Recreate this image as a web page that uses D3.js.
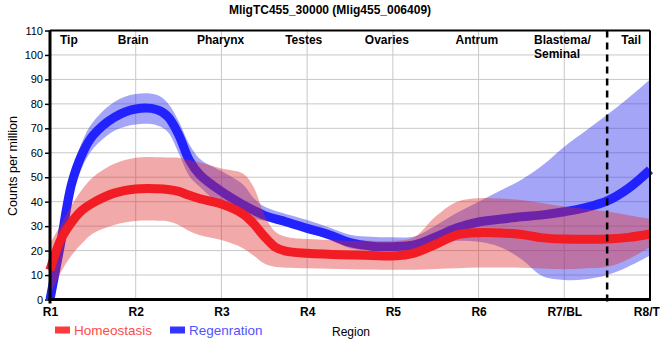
<!DOCTYPE html>
<html>
<head>
<meta charset="utf-8">
<script src="https://cdn.jsdelivr.net/npm/d3@7"></script>
<style>
  html, body { margin: 0; padding: 0; background: #fff; }
  svg { display: block; font-family: "Liberation Sans", Arial, sans-serif; }
</style>
</head>
<body>
<svg id="chart" width="660" height="360"></svg>
<script>
// ---------------- data ----------------
const title = "MligTC455_30000 (Mlig455_006409)";
const xTickLabels = ["R1", "R2", "R3", "R4", "R5", "R6", "R7/BL", "R8/TL"];
const yTicks = [0, 10, 20, 30, 40, 50, 60, 70, 80, 90, 100, 110];
const regionNames = ["Tip", "Brain", "Pharynx", "Testes", "Ovaries", "Antrum", "Blastema/|Seminal", "Tail"];
const regionAt = [1.22, 1.97, 2.99, 3.96, 4.93, 5.98, 6.647, 7.78];
const seriesNames = ["Homeostasis", "Regenration"];

// positions along the body (R1 = 1 ... R8 = 8)
const positions = [1, 1.125, 1.25, 1.375, 1.5, 1.75, 2, 2.25, 2.375, 2.5, 2.625, 2.75, 3, 3.25, 3.375, 3.5, 3.625, 3.75,
  4, 4.25, 4.5, 4.75, 5, 5.25, 5.5, 5.75, 6, 6.25, 6.5, 6.75, 7, 7.25, 7.5, 7.75, 8];

const homeoMean = [12, 24.5, 31.5, 36.5, 39.5, 43.5, 45.2, 45.3, 45, 44.2, 42.6, 41.2, 39, 35, 31, 25.8, 21.5, 19.8,
  18.9, 18.5, 18.2, 18, 17.8, 19, 22.6, 26.4, 27.3, 27.2, 26.6, 25.2, 24.7, 24.6, 24.7, 25.4, 26.8];
const homeoHigh = [23, 30.5, 38.5, 45, 50, 55.5, 58, 58.2, 58.1, 58, 57, 56, 53.6, 51.5, 46, 34.7, 27.8, 25.7,
  24.7, 24.3, 24, 24, 24, 25.5, 34, 40, 41.4, 41.3, 40.7, 39.4, 38, 37, 36, 34.5, 33];
const homeoLow = [1.5, 11, 18, 23, 27, 30.5, 32.1, 32.2, 32, 30.5, 28, 26.3, 24.3, 21, 18, 14.7, 13.4, 13,
  12.8, 12.6, 12.4, 12.3, 12.2, 12.2, 12.5, 12.8, 13.1, 13.1, 13, 12.7, 12.4, 12.8, 13.4, 16.5, 21.6];

const regenMean = [0, 23, 47, 59.5, 67, 74.5, 77.9, 77.6, 74.8, 67.5, 57, 51, 44.2, 38.8, 36.5, 34.4, 33, 31.8,
  29.1, 26.6, 23.3, 21.8, 21.6, 22.3, 25.6, 29.3, 31.7, 32.8, 33.8, 34.6, 35.9, 37.6, 40.3, 45.5, 53];
const regenHigh = [2, 28, 51, 64.5, 72.5, 80.8, 84, 83.6, 80.3, 73, 63.5, 57.5, 52.5, 47, 41.5, 38, 36.3, 35,
  32.5, 29.5, 26.5, 25.7, 25.5, 25.8, 30.3, 35.5, 40, 44.5, 49, 55, 62.5, 69, 75.5, 82.5, 90];
const regenLow = [0, 17, 42, 54, 61.5, 69, 71.6, 71.2, 68.5, 60, 50.5, 46, 38.5, 34, 33, 32.3, 31.3, 30,
  27.5, 24.5, 21, 20.2, 20, 20.3, 22.5, 24, 23.6, 21.5, 16.5, 9.5, 8, 8.3, 10, 13.5, 18];

// ---------------- layout ----------------
const svg = d3.select("#chart");
const pLeft = 50, pRight = 650, pTop = 30.5, pBottom = 299.5;
const x = d3.scaleLinear().domain([1, 8]).range([pLeft, pRight]);
const y = d3.scaleLinear().domain([0, 110]).range([pBottom, pTop]);

const colors = {
  homeoLine: "#f21c24", homeoBand: "rgba(222,40,40,0.4)",
  regenLine: "#2222ff", regenBand: "rgba(50,50,240,0.44)"
};

// grid
const grid = svg.append("g");
grid.selectAll("line.h").data(yTicks).join("line")
  .attr("x1", pLeft).attr("x2", pRight)
  .attr("y1", d => y(d)).attr("y2", d => y(d))
  .attr("stroke", "#c8c8c8").attr("stroke-width", 1);
grid.selectAll("line.v").data(d3.range(1, 9)).join("line")
  .attr("x1", d => x(d)).attr("x2", d => x(d))
  .attr("y1", pTop).attr("y2", pBottom)
  .attr("stroke", "#c8c8c8").attr("stroke-width", 1);

// series
const curve = d3.curveCatmullRom.alpha(0.5);
function band(lo, hi) {
  return d3.area().curve(curve)
    .x((d, i) => x(positions[i]))
    .y0((d, i) => y(lo[i]))
    .y1((d, i) => y(hi[i]))(positions);
}
function line(vals) {
  return d3.line().curve(curve)
    .x((d, i) => x(positions[i]))
    .y((d, i) => y(vals[i]))(positions);
}

svg.append("path").attr("d", band(regenLow, regenHigh)).attr("fill", colors.regenBand);
svg.append("path").attr("d", line(regenMean)).attr("fill", "none")
  .attr("stroke", colors.regenLine).attr("stroke-width", 9);
svg.append("path").attr("d", band(homeoLow, homeoHigh)).attr("fill", colors.homeoBand);
svg.append("path").attr("d", line(homeoMean)).attr("fill", "none")
  .attr("stroke", colors.homeoLine).attr("stroke-width", 9);

// dashed divider
svg.append("line")
  .attr("x1", x(7.5)).attr("x2", x(7.5)).attr("y1", pTop).attr("y2", pBottom + 6)
  .attr("stroke", "#000").attr("stroke-width", 2.5).attr("stroke-dasharray", "7,5");

// frame
svg.append("line").attr("x1", pLeft).attr("x2", pRight).attr("y1", pTop).attr("y2", pTop)
  .attr("stroke", "#000").attr("stroke-width", 2);
svg.append("line").attr("x1", pRight).attr("x2", pRight).attr("y1", pTop).attr("y2", pBottom)
  .attr("stroke", "#000").attr("stroke-width", 2);

// y axis
const yAxis = d3.axisLeft(y).tickValues(yTicks).tickSize(5).tickPadding(2);
const gy = svg.append("g").attr("transform", `translate(${pLeft},0)`).call(yAxis);
gy.select(".domain").attr("stroke-width", 3).attr("d", `M0,${pTop}V${pBottom + 4}`);
gy.selectAll(".tick line").attr("stroke-width", 1.5);
gy.selectAll(".tick text").attr("font-size", 11).attr("fill", "#000")
  .attr("font-family", "Liberation Sans, Arial, sans-serif");

// x axis
const xAxis = d3.axisBottom(x).tickValues(d3.range(1, 9)).tickSize(0).tickPadding(8)
  .tickFormat((d, i) => xTickLabels[i]);
const gx = svg.append("g").attr("transform", `translate(0,${pBottom})`).call(xAxis);
gx.select(".domain").attr("stroke-width", 3).attr("d", `M${pLeft - 1.5},0H${pRight + 1}`);
gx.selectAll(".tick text").attr("font-size", 12).attr("font-weight", "bold").attr("fill", "#000")
  .attr("font-family", "Liberation Sans, Arial, sans-serif");

// region names
const rn = svg.append("g").attr("font-size", 12).attr("font-weight", "bold").attr("fill", "#000");
regionNames.forEach((name, i) => {
  const parts = name.split("|");
  const t = rn.append("text")
    .attr("x", x(regionAt[i])).attr("y", 44)
    .attr("text-anchor", parts.length > 1 ? "start" : "middle");
  parts.forEach((p, j) => {
    t.append("tspan").attr("x", x(regionAt[i])).attr("dy", j === 0 ? 0 : 14).text(p);
  });
});

// title
svg.append("text").attr("x", 330).attr("y", 14).attr("text-anchor", "middle")
  .attr("font-size", 12).attr("font-weight", "bold").text(title);

// y label
svg.append("text").attr("transform", "translate(16.5,166) rotate(-90)")
  .attr("text-anchor", "middle").attr("font-size", 12.5).text("Counts per million");

// x label
svg.append("text").attr("x", 332).attr("y", 336).attr("font-size", 12).text("Region");

// legend
const legend = [
  { name: seriesNames[0], x: 55, rect: "#ff3a3a", text: "#ff4a4a" },
  { name: seriesNames[1], x: 170, rect: "#3434ff", text: "#5252ff" }
];
legend.forEach(l => {
  svg.append("rect").attr("x", l.x).attr("y", 326.5).attr("width", 15).attr("height", 7).attr("fill", l.rect);
  svg.append("text").attr("x", l.x + 19).attr("y", 334.5).attr("font-size", 13.5)
    .attr("fill", l.text).text(l.name);
});
</script>
</body>
</html>
